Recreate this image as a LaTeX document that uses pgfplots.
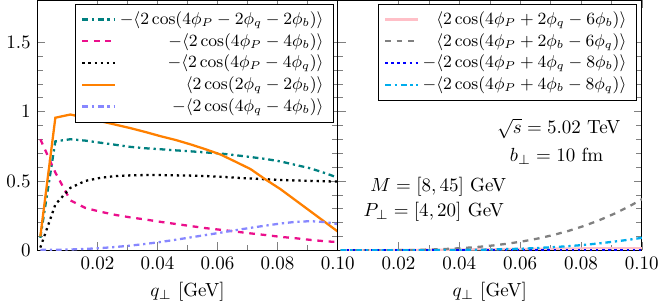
\documentclass[border=0pt]{standalone}
\usepackage{pgfplots}
\pgfplotsset{compat=1.18}
\usepackage{pgfplotstable}
\definecolor{mymag}{rgb}{0.92,0.06,0.55}
\definecolor{mylav}{rgb}{0.53,0.53,1.0}
\definecolor{mycyan}{rgb}{0.0,0.68,0.93}
\definecolor{mypink}{rgb}{1.0,0.75,0.78}
\pgfplotstableread{
x     teal   mag    blk    org    lav    pink   gray    blue   cyan
0.001 0.09   0.80   0.02   0.10   0.003  0.000  0.0000  0.002  0.000
0.006 0.785  0.56   0.33   0.955  0.004  0.000  0.0000  0.002  0.000
0.011 0.80   0.36   0.45   0.978  0.006  0.001  0.0002  0.002  0.000
0.016 0.79   0.305  0.50   0.955  0.010  0.001  0.0006  0.002  0.000
0.021 0.775  0.278  0.522  0.93   0.016  0.002  0.0016  0.002  0.000
0.026 0.76   0.255  0.535  0.905  0.024  0.003  0.0033  0.002  0.001
0.031 0.745  0.237  0.540  0.88   0.034  0.004  0.0061  0.002  0.001
0.036 0.735  0.222  0.542  0.852  0.046  0.005  0.0103  0.002  0.002
0.041 0.728  0.205  0.542  0.822  0.060  0.006  0.0162  0.002  0.003
0.046 0.72   0.19   0.540  0.795  0.076  0.007  0.0242  0.002  0.004
0.051 0.713  0.175  0.538  0.763  0.093  0.008  0.0348  0.002  0.006
0.056 0.705  0.16   0.535  0.728  0.110  0.009  0.0482  0.002  0.009
0.061 0.697  0.148  0.530  0.69   0.127  0.010  0.065   0.002  0.012
0.066 0.685  0.135  0.523  0.638  0.145  0.011  0.0857  0.002  0.017
0.071 0.672  0.122  0.517  0.585  0.162  0.012  0.1107  0.002  0.023
0.076 0.658  0.11   0.512  0.51   0.178  0.013  0.1405  0.002  0.030
0.081 0.64   0.097  0.507  0.44   0.193  0.014  0.1755  0.002  0.039
0.086 0.615  0.087  0.503  0.36   0.205  0.015  0.2165  0.002  0.050
0.091 0.59   0.075  0.500  0.28   0.210  0.015  0.2638  0.002  0.063
0.096 0.555  0.065  0.497  0.20   0.203  0.015  0.318   0.002  0.077
0.101 0.515  0.058  0.495  0.12   0.185  0.015  0.38    0.002  0.093
}\datatable
\pgfplotsset{
  panel/.style={
    scale only axis,
    width=158pt, height=131.5pt,
    xmin=0, xmax=0.1, ymin=0, ymax=1.8,
    xtick={0.02,0.04,0.06,0.08,0.1},
    ytick={0,0.5,1,1.5},
    minor x tick num=1,
    minor y tick num=4,
    xticklabel style={/pgf/number format/.cd, fixed, fixed zerofill, precision=2},
    xlabel={$q_\perp$ [GeV]},
    legend cell align=right,
    every axis plot/.append style={very thick},
  }
}
\begin{document}
\begin{tikzpicture}
\begin{axis}[panel, name=left,
  legend style={at={(0.986,0.987)}, anchor=north east, font=\small, row sep=-0.8pt},
]
\addplot[teal, dashdotted] table[x=x, y=teal] {\datatable};
\addlegendentry{$-\langle 2\cos(4\phi_P - 2\phi_q - 2\phi_b)\rangle$}
\addplot[mymag, dashed] table[x=x, y=mag] {\datatable};
\addlegendentry{$-\langle 2\cos(4\phi_P - 4\phi_b)\rangle$}
\addplot[black, dotted] table[x=x, y=blk] {\datatable};
\addlegendentry{$-\langle 2\cos(4\phi_P - 4\phi_q)\rangle$}
\addplot[orange] table[x=x, y=org] {\datatable};
\addlegendentry{$\langle 2\cos(2\phi_q - 2\phi_b)\rangle$}
\addplot[mylav, dashdotted] table[x=x, y=lav] {\datatable};
\addlegendentry{$-\langle 2\cos(4\phi_q - 4\phi_b)\rangle$}
\end{axis}
\begin{axis}[panel, at={(left.south east)}, anchor=south west,
  width=160pt, yticklabels={},
  legend style={at={(0.982,0.987)}, anchor=north east, font=\small, row sep=-0.8pt},
]
\addplot[mypink] table[x=x, y=pink] {\datatable};
\addlegendentry{$\langle 2\cos(4\phi_P + 2\phi_q - 6\phi_b)\rangle$}
\addplot[gray, dashed] table[x=x, y=gray] {\datatable};
\addlegendentry{$\langle 2\cos(4\phi_P + 2\phi_b - 6\phi_q)\rangle$}
\addplot[blue, dotted] table[x=x, y=blue] {\datatable};
\addlegendentry{$-\langle 2\cos(4\phi_P + 4\phi_q - 8\phi_b)\rangle$}
\addplot[mycyan, dashdotted] table[x=x, y=cyan] {\datatable};
\addlegendentry{$-\langle 2\cos(4\phi_P + 4\phi_b - 8\phi_q)\rangle$}
\node at (axis cs:0.0727,0.877) {$\sqrt{s}=5.02$ TeV};
\node at (axis cs:0.0720,0.676) {$b_\perp=10$ fm};
\node at (axis cs:0.0331,0.455) {$M=[8,45]$ GeV};
\node at (axis cs:0.0316,0.275) {$P_\perp=[4,20]$ GeV};
\end{axis}
\end{tikzpicture}
\end{document}
